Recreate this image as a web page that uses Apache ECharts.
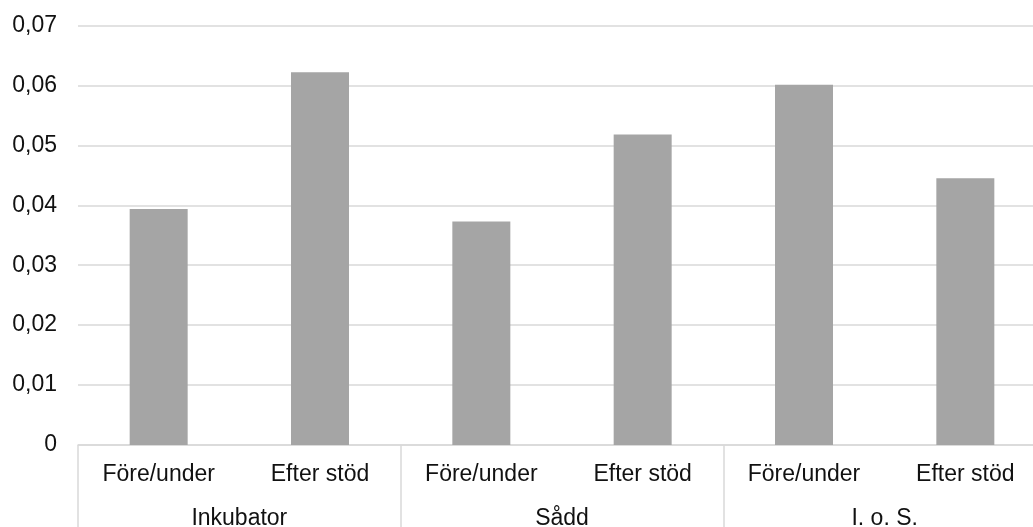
<!DOCTYPE html>
<html>
<head>
<meta charset="utf-8">
<script src="https://cdn.jsdelivr.net/npm/echarts@6/dist/echarts.min.js"></script>
<style>
html,body{margin:0;padding:0;background:#fff;}
#c{width:1033px;height:527px;}
</style>
</head>
<body>
<div id="c"></div>
<script>
const subCategories = ['Före/under', 'Efter stöd', 'Före/under', 'Efter stöd', 'Före/under', 'Efter stöd'];
const groups = ['Inkubator', 'Sådd', 'I. o. S.'];
const values = [0.0394, 0.0622, 0.0373, 0.0518, 0.0601, 0.0445];
const yMin = 0, yMax = 0.07, yStep = 0.01;

const chart = echarts.init(document.getElementById('c'));
const font = 'Liberation Sans, Arial, sans-serif';
chart.setOption({
  animation: false,
  backgroundColor: '#fff',
  grid: { left: 78, top: 25.5, right: -13, bottom: 82, containLabel: false, outerBoundsMode: 'none' },
  xAxis: [
    {
      type: 'category',
      data: subCategories,
      position: 'bottom',
      axisLine: { show: true, lineStyle: { color: '#d9d9d9', width: 1.5 } },
      axisTick: { show: false },
      axisLabel: { interval: 0, color: '#111', fontSize: 23, fontFamily: font, margin: 18 }
    },
    {
      type: 'category',
      data: groups,
      position: 'bottom',
      axisLine: { show: false },
      axisTick: { show: true, length: 84, interval: 0, lineStyle: { color: '#d9d9d9', width: 1.5 } },
      axisLabel: { interval: 0, color: '#111', fontSize: 23, fontFamily: font, margin: 62 }
    }
  ],
  yAxis: {
    type: 'value',
    min: yMin, max: yMax, interval: yStep,
    axisLine: { show: false },
    axisTick: { show: false },
    splitLine: { lineStyle: { color: '#d9d9d9', width: 1.5 } },
    axisLabel: {
      color: '#111', fontSize: 23, fontFamily: font, margin: 21,
      formatter: v => v === 0 ? '0' : v.toFixed(2).replace('.', ',')
    }
  },
  series: [{
    type: 'bar',
    xAxisIndex: 0,
    data: values,
    barWidth: 58,
    itemStyle: { color: '#a5a5a5' }
  }]
});
</script>
</body>
</html>
